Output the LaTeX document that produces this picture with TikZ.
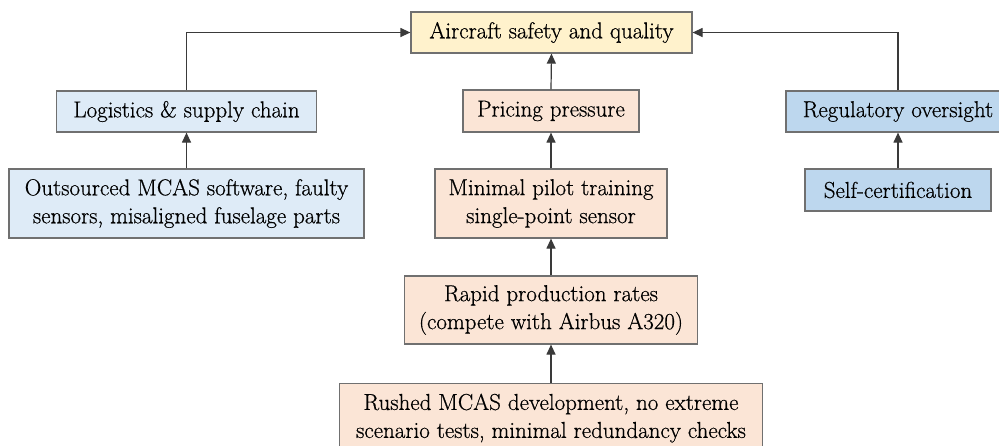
\documentclass[tikz,border=0pt]{standalone}
\usepackage{fontspec}
\newfontfamily\lmr{Latin Modern Roman}[FakeBold=0.6]
\usetikzlibrary{arrows.meta}
\definecolor{edgegray}{HTML}{707070}
\definecolor{linegray}{HTML}{3A3A3A}
\definecolor{yel}{HTML}{FFF2CC}
\definecolor{lblue}{HTML}{DEEBF7}
\definecolor{mblue}{HTML}{BDD7EE}
\definecolor{peach}{HTML}{FBE5D6}
\tikzset{
  box/.style={draw=edgegray, line width=1.2pt, rectangle, align=center, inner sep=0pt,
    font=\lmr\fontsize{23}{28}\selectfont, text=black},
  arr/.style={draw=linegray, line width=1.2pt, -{Triangle[length=10pt,width=9pt]}}
}
\begin{document}
\begin{tikzpicture}[x=1pt,y=-1pt]
\path[use as bounding box, clip] (0,0) rectangle (999,445);
\fill[white] (0,0) rectangle (999,445);
\node[box, fill=yel, minimum width=281pt, minimum height=41pt] (top) at (551.5,32.5) {Aircraft safety and quality};
\node[box, fill=lblue, minimum width=260pt, minimum height=41pt] (log) at (186.5,111.5) {Logistics \& supply chain};
\node[box, fill=peach, minimum width=176pt, minimum height=42pt] (price) at (551,111) {Pricing pressure};
\node[box, fill=mblue, minimum width=224pt, minimum height=41pt] (reg) at (898,111.5) {Regulatory oversight};
\node[box, fill=lblue, minimum width=355pt, minimum height=69pt] (out) at (186.5,203.5) {Outsourced MCAS software, faulty\\sensors, misaligned fuselage parts};
\node[box, fill=peach, minimum width=232pt, minimum height=69pt] (min) at (551,203.5) {Minimal pilot training\\single-point sensor};
\node[box, fill=mblue, minimum width=186pt, minimum height=42pt] (self) at (898,190) {Self-certification};
\node[box, fill=peach, minimum width=293pt, minimum height=68pt] (rapid) at (551,310) {Rapid production rates\\(compete with Airbus A320)};
\node[box, fill=peach, minimum width=423pt, minimum height=69pt, anchor=north] (rush) at (551,383) {Rushed MCAS development, no extreme\\scenario tests, minimal redundancy checks};
\draw[arr] (log.north) |- (top.west);
\draw[arr] (reg.north) |- (top.east);
\draw[arr] (price.north) -- (top.south);
\draw[arr] (min.north) -- (price.south);
\draw[arr] (rapid.north) -- (min.south);
\draw[arr] (rush.north) -- (rapid.south);
\draw[arr] (out.north) -- (log.south);
\draw[arr] (self.north) -- (reg.south);
\end{tikzpicture}
\end{document}
